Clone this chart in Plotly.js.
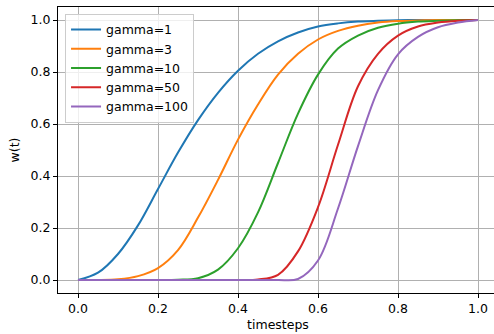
<!DOCTYPE html>
<html>
<head>
<meta charset="utf-8">
<script src="https://cdn.plot.ly/plotly-3.0.1.min.js"></script>
<style>
html,body{margin:0;padding:0;overflow:hidden;background:#fff;}
#chart{width:500px;height:334px;}
</style>
</head>
<body>
<div id="chart"></div>
<script>
// timesteps (x) shared by all series
const timesteps = [0,0.05,0.1,0.15,0.2,0.25,0.3,0.35,0.4,0.45,0.5,0.55,0.6,0.65,0.7,0.75,0.8,0.85,0.9,0.95,1.0];
const seriesNames = ["gamma=1","gamma=3","gamma=10","gamma=50","gamma=100"];
const gamma1   = [0,0.028,0.10,0.21,0.35,0.49,0.615,0.72,0.805,0.87,0.918,0.952,0.975,0.987,0.994,0.997,0.999,1,1,1,1];
const gamma3   = [0,0,0.003,0.015,0.046,0.115,0.24,0.385,0.54,0.675,0.79,0.87,0.925,0.958,0.978,0.99,0.996,0.998,1,1,1];
const gamma10  = [0,0,0,0,0,0.001,0.007,0.04,0.122,0.26,0.45,0.64,0.79,0.89,0.94,0.97,0.986,0.994,0.997,0.999,1];
const gamma50  = [0,0,0,0,0,0,0,0,0,0.002,0.02,0.11,0.28,0.52,0.745,0.87,0.94,0.975,0.99,0.997,1];
const gamma100 = [0,0,0,0,0,0,0,0,0,0,0,0.004,0.075,0.275,0.515,0.73,0.868,0.935,0.972,0.99,1];
const colors = ["#1f77b4","#ff7f0e","#2ca02c","#d62728","#9467bd"];
const xTicks = [0,0.2,0.4,0.6,0.8,1.0];
const xTickText = ["0.0","0.2","0.4","0.6","0.8","1.0"];
const yTicks = [0,0.2,0.4,0.6,0.8,1.0];
const yTickText = ["0.0","0.2","0.4","0.6","0.8","1.0"];

const allY = [gamma1,gamma3,gamma10,gamma50,gamma100];
const traces = allY.map((ys,i)=>({
  x: timesteps, y: ys, type:"scatter", mode:"lines", name: seriesNames[i],
  line:{color:colors[i], width:2, shape:"spline", smoothing:1}
}));

const font = {family:"DejaVu Sans, sans-serif", size:12.5, color:"#000"};
const axisCommon = {
  showline:true, mirror:true, linecolor:"#000", linewidth:1,
  ticks:"outside", ticklen:4, tickwidth:1, tickcolor:"#000",
  showgrid:true, gridcolor:"#b0b0b0", gridwidth:1, zeroline:false,
  tickfont:font
};
const layout = {
  width:500, height:334,
  margin:{l:58, r:2, t:7, b:41},
  paper_bgcolor:"#fff", plot_bgcolor:"#fff",
  font: font,
  showlegend:true,
  legend:{x:0.016, y:0.976, xanchor:"left", yanchor:"top",
    bgcolor:"rgba(255,255,255,0.8)", bordercolor:"#cccccc", borderwidth:1,
    font:{family:"DejaVu Sans, sans-serif", size:12.5, color:"#000"}},
  xaxis: Object.assign({}, axisCommon, {range:[-0.05,1.05], tickvals:xTicks, ticktext:xTickText,
    title:{text:"timesteps", font:font, standoff:5}}),
  yaxis: Object.assign({}, axisCommon, {range:[-0.05,1.05], tickvals:yTicks, ticktext:yTickText,
    title:{text:"w(t)", font:font, standoff:8}})
};
Plotly.newPlot("chart", traces, layout, {staticPlot:true, displayModeBar:false});
</script>
</body>
</html>
